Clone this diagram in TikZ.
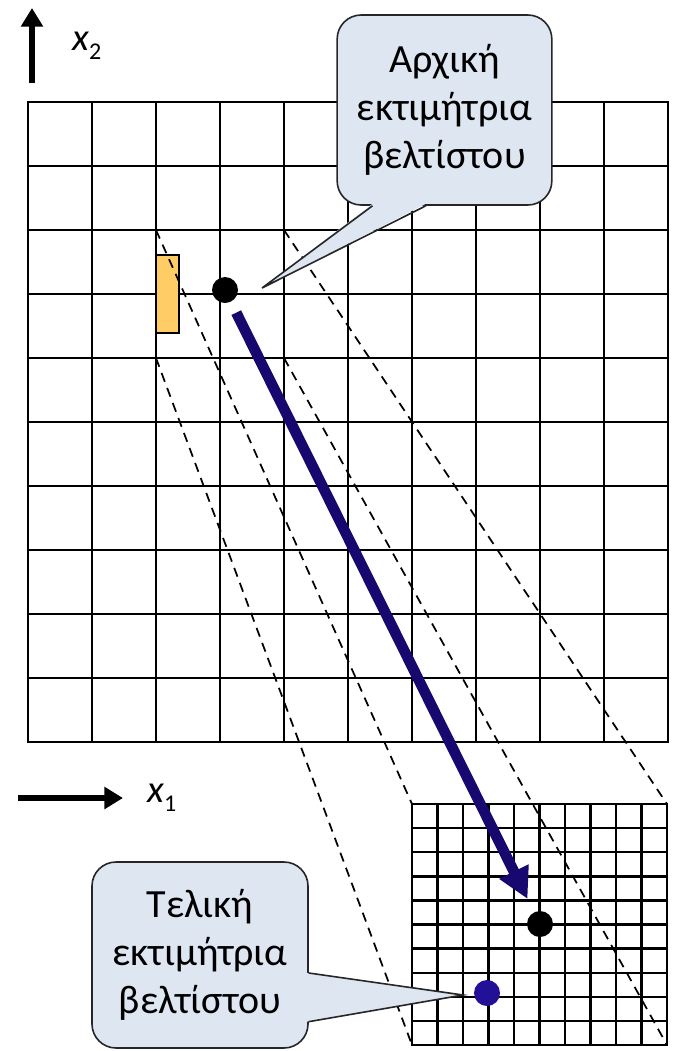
\documentclass[tikz,border=0pt]{standalone}
\usepackage{fontspec}
\setmainfont{Carlito}
\usetikzlibrary{arrows.meta,positioning}
\definecolor{bubbleblue}{RGB}{222,230,242}
\definecolor{pathnavy}{RGB}{22,8,110}
\definecolor{optblue}{RGB}{34,16,150}
\definecolor{cellorange}{RGB}{255,204,102}
\newcommand{\axislabel}[1]{{\itshape x}\raisebox{-0.5ex}{\fontsize{18}{18}\selectfont #1}}

\begin{document}
\begin{tikzpicture}[
    x=0.75pt, y=-0.75pt,
    gridline/.style={line width=1.8pt, line cap=rect, draw=black},
    zoomline/.style={line width=1.3pt, dash pattern=on 7pt off 5pt, draw=black},
    bubble/.style={rectangle, draw=black!85, fill=bubbleblue, rounded corners=18pt, line width=1.2pt, align=center, font=\fontsize{30}{36}\selectfont},
    pointer/.style={line width=1.2pt, draw=black!85, line join=miter},
    dot/.style={circle, fill=black, inner sep=0pt, minimum size=19.5pt},
    axis/.style={-{Triangle[length=14pt, width=16pt]}, line width=5pt},
    axisname/.style={font=\fontsize{29}{30}\selectfont, inner sep=0pt},
    move/.style={-{Triangle[length=23pt, width=23pt]}, line width=8pt, draw=pathnavy}
]
\useasboundingbox (0,0) rectangle (673,1051);

% Coarse grid 10 x 10
\foreach \i in {0,...,10} {
  \draw[gridline] (28+64*\i,102) -- (28+64*\i,742);
  \draw[gridline] (28,102+64*\i) -- (668,102+64*\i);
}

% Fine grid 10 x 10
\foreach \i in {0,...,10} {
  \draw[gridline] (412+25.5*\i,804) -- (412+25.5*\i,1045);
  \draw[gridline] (412,804+24.1*\i) -- (667,804+24.1*\i);
}

% Zoomed region and its image
\coordinate (zoomNW) at (156,230);
\coordinate (zoomNE) at (284,230);
\coordinate (zoomSW) at (156,358);
\coordinate (zoomSE) at (284,358);
\coordinate (fineNW) at (412,804);
\coordinate (fineNE) at (667,804);
\coordinate (fineSW) at (412,1045);
\coordinate (fineSE) at (667,1045);

\node[rectangle, draw=black, line width=0.9pt, fill=cellorange, minimum width=17.25pt, minimum height=58.5pt, inner sep=0pt] (cell) at (167.5,294) {};

\draw[zoomline] (zoomNW) -- (fineNW);
\draw[zoomline] (zoomNE) -- (fineNE);
\draw[zoomline] (zoomSW) -- (fineSW);
\draw[zoomline] (zoomSE) -- (fineSE);

% Estimates
\node[dot] (initpt) at (225,290) {};
\node[dot] (finestart) at (540,924) {};
\node[dot, fill=optblue] (finalpt) at (487,993) {};

\draw[move, shorten <=9pt, shorten >=11pt] (initpt) -- (finestart);

% Axes
\coordinate (x2base) at (32,83);
\coordinate (x2tip) at (32,8);
\coordinate (x2mid) at (32,46);
\coordinate (x1base) at (18,798);
\coordinate (x1tip) at (123,798);
\draw[axis] (x2base) -- (x2tip);
\draw[axis] (x1base) -- (x1tip);
\node[axisname, right=30pt of x2mid] (x2label) {\axislabel{2}};
\node[axisname, right=18pt of x1tip] (x1label) {\axislabel{1}};

% Callouts
\node[bubble, minimum width=161pt, minimum height=142.5pt] (initlabel) at (444.5,110) {Αρχική\\εκτιμήτρια\\βελτίστου};
\coordinate (inittip) at (262,288);
\fill[bubbleblue] ([xshift=-54pt,yshift=1.5pt]initlabel.south) -- (inittip) -- ([xshift=-14pt,yshift=1.5pt]initlabel.south) -- cycle;
\draw[pointer] ([xshift=-54pt]initlabel.south) -- (inittip) -- ([xshift=-14pt]initlabel.south);

\node[bubble, minimum width=162pt, minimum height=139.5pt] (finallabel) at (200,955) {Τελική\\εκτιμήτρια\\βελτίστου};
\coordinate (finaltip) at (463,995);
\fill[bubbleblue] ([xshift=-1.5pt,yshift=-13.5pt]finallabel.east) -- (finaltip) -- ([xshift=-1.5pt,yshift=-50pt]finallabel.east) -- cycle;
\draw[pointer] ([yshift=-13.5pt]finallabel.east) -- (finaltip) -- ([yshift=-50pt]finallabel.east);

\end{tikzpicture}
\end{document}
